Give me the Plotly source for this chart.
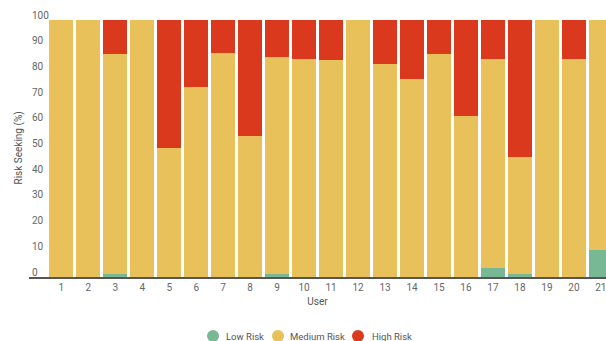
import plotly.graph_objects as go

# Risk-seeking profile per user (percent of choices in each risk band)
users = [str(i) for i in range(1, 22)]
low_risk = [0, 0, 1.2, 0, 0, 0, 0, 0, 1.2, 0, 0, 0, 0, 0, 0, 0, 3.6, 1.2, 0, 0, 10.7]
medium_risk = [100, 100, 85.7, 100, 50.1, 74.1, 87.2, 55.0, 84.5, 84.8, 84.6, 100,
               82.7, 76.9, 86.8, 62.6, 81.1, 45.5, 100, 85.0, 89.3]
high_risk = [0, 0, 13.1, 0, 49.9, 25.9, 12.8, 45.0, 14.3, 15.2, 15.4, 0,
             17.3, 23.1, 13.2, 37.4, 15.3, 53.3, 0, 15.0, 0]
y_ticks = list(range(0, 101, 10))

series = [
    ("Low Risk", low_risk, "#79b895"),
    ("Medium Risk", medium_risk, "#e8c15a"),
    ("High Risk", high_risk, "#db391e"),
]
# Each legend entry is split into a dot legend and a label legend so the
# dot-to-label spacing can be kept tight.
dot_legends = ["legend", "legend2", "legend3"]
label_legends = ["legend4", "legend5", "legend6"]
dot_x = [193, 258, 338]      # left edge of each dot legend, px
label_x = [186, 250, 332]    # left edge of each label legend, px

fig = go.Figure()
for name, vals, color in series:
    fig.add_trace(go.Bar(
        x=users, y=vals, name=name, marker_color=color,
        marker_line_width=0, showlegend=False,
    ))
for (name, vals, color), dl, ll in zip(series, dot_legends, label_legends):
    fig.add_trace(go.Scatter(
        x=[None], y=[None], mode="markers", name="", legend=dl,
        marker=dict(color=color, size=12, symbol="circle"),
    ))
    fig.add_trace(go.Scatter(
        x=[None], y=[None], mode="markers", name=name, legend=ll,
        marker=dict(color="rgba(0,0,0,0)", size=12, symbol="circle"),
    ))

legend_style = dict(
    orientation="h", xref="container", yref="container",
    xanchor="left", yanchor="middle", y=0.015,
    font=dict(size=9.5, color="#555555"), bgcolor="rgba(0,0,0,0)",
    itemclick=False, itemdoubleclick=False,
)
layout_legends = {}
for lid, lx in zip(dot_legends + label_legends, dot_x + label_x):
    layout_legends[lid] = dict(legend_style, x=lx / 606)

fig.update_layout(
    width=606, height=341,
    margin=dict(l=29, r=0, t=20, b=64),
    barmode="stack", bargap=0.111,
    plot_bgcolor="white", paper_bgcolor="white",
    font=dict(family="Roboto, sans-serif", size=10, color="#666666"),
    annotations=[dict(
        text="Risk Seeking (%)", textangle=-90, xref="paper", yref="paper",
        x=0, y=0.5, xanchor="center", yanchor="middle", xshift=-11,
        showarrow=False, font=dict(size=10, color="#555555"),
    )],
    **layout_legends,
)
fig.update_xaxes(
    type="category", range=[-1.197, 20.19], showgrid=False,
    showline=True, linecolor="#555555", linewidth=2, ticks="",
    title=dict(text="User", standoff=6, font=dict(size=10, color="#555555")),
    tickfont=dict(size=10, color="#666666"),
)
fig.update_yaxes(
    range=[0, 100], tickvals=y_ticks, showgrid=False, zeroline=False,
    ticklabelposition="inside", ticklabelshift=-5, ticklabeloverflow="allow",
    ticks="", tickfont=dict(size=10, color="#666666"),
)

fig.write_html("out.html")
